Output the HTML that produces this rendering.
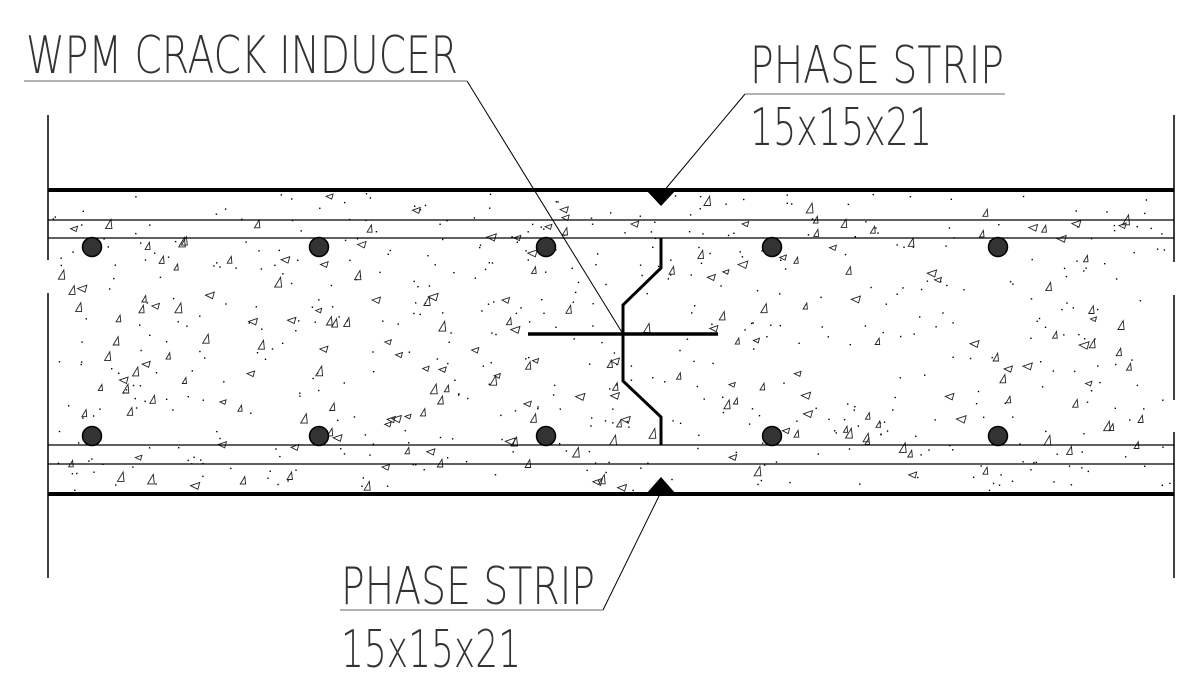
<!DOCTYPE html>
<html><head><meta charset="utf-8"><style>
html,body{margin:0;padding:0;background:#fff;}
svg{display:block;}
text{font-family:"DejaVu Sans","Liberation Sans",sans-serif;font-weight:200;fill:#333;}
</style></head><body>
<svg id="s" width="1200" height="688" viewBox="0 0 1200 688" xmlns="http://www.w3.org/2000/svg">
<rect width="1200" height="688" fill="#fff"/>
<g id="tex"></g>
<!-- end verticals -->
<g stroke="#000" stroke-width="1.5">
<line x1="48" y1="115" x2="48" y2="260"/>
<line x1="48" y1="293" x2="48" y2="578"/>
<line x1="1174" y1="115" x2="1174" y2="262"/>
<line x1="1174" y1="295" x2="1174" y2="400"/>
<line x1="1174" y1="432" x2="1174" y2="578"/>
</g>
<!-- slab lines -->
<line x1="48" y1="190" x2="1174" y2="190" stroke="#000" stroke-width="4"/>
<line x1="48" y1="220" x2="1174" y2="220" stroke="#000" stroke-width="1.3"/>
<line x1="48" y1="238" x2="1174" y2="238" stroke="#000" stroke-width="1.3"/>
<line x1="48" y1="445" x2="1174" y2="445" stroke="#000" stroke-width="1.3"/>
<line x1="48" y1="464" x2="1174" y2="464" stroke="#000" stroke-width="1.3"/>
<line x1="48" y1="494" x2="1174" y2="494" stroke="#000" stroke-width="4"/>
<!-- phase strips -->
<polygon points="646,190 676,190 661,206" fill="#000"/>
<polygon points="646,494 676,494 661,477" fill="#000"/>
<!-- bars -->
<g fill="#333" stroke="#000" stroke-width="1.5">
<circle cx="92" cy="247" r="9.5"/><circle cx="319" cy="247" r="9.5"/><circle cx="546" cy="247" r="9.5"/><circle cx="772" cy="247" r="9.5"/><circle cx="998" cy="247" r="9.5"/>
<circle cx="92" cy="436" r="9.5"/><circle cx="319" cy="436" r="9.5"/><circle cx="546" cy="436" r="9.5"/><circle cx="772" cy="436" r="9.5"/><circle cx="998" cy="436" r="9.5"/>
</g>
<!-- crack inducer -->
<polyline points="661,238 661,268 623,305 623,381 661,417 661,445" fill="none" stroke="#000" stroke-width="3"/>
<line x1="528" y1="334" x2="718" y2="334" stroke="#000" stroke-width="3.5"/>
<!-- leaders -->
<line x1="467" y1="81" x2="623" y2="334" stroke="#000" stroke-width="1"/>
<line x1="24" y1="81" x2="467" y2="81" stroke="#999" stroke-width="1.5"/>
<line x1="745" y1="94" x2="663" y2="192" stroke="#000" stroke-width="1"/>
<line x1="745" y1="94" x2="1005" y2="94" stroke="#999" stroke-width="1.5"/>
<line x1="603" y1="610" x2="660" y2="494" stroke="#000" stroke-width="1"/>
<line x1="340" y1="610" x2="603" y2="610" stroke="#999" stroke-width="1.5"/>
<!-- labels -->
<text x="26" y="73" font-size="52" textLength="432" lengthAdjust="spacingAndGlyphs">WPM  CRACK  INDUCER</text>
<text x="750" y="83" font-size="52" textLength="254" lengthAdjust="spacingAndGlyphs">PHASE  STRIP</text>
<text x="750" y="145" font-size="52" textLength="182" lengthAdjust="spacingAndGlyphs">15x15x21</text>
<text x="341" y="604" font-size="52" textLength="254" lengthAdjust="spacingAndGlyphs">PHASE  STRIP</text>
<text x="341" y="667" font-size="52" textLength="180" lengthAdjust="spacingAndGlyphs">15x15x21</text>
</svg>
<script>
(function(){
var seed=777;function r(){seed=(seed*1103515245+12345)%2147483648;return seed/2147483648;}
var g=document.getElementById('tex'),h='';
for(var i=0;i<520;i++){var x=52+r()*1118,y=193+r()*298;h+='<rect x="'+x.toFixed(1)+'" y="'+y.toFixed(1)+'" width="1.4" height="1.4" fill="#000"/>';}
for(var j=0;j<210;j++){var x=55+r()*1110,y=196+r()*292,s=6+r()*4,t=r()<0.5;
var p=t?[[x,y+s],[x+s*0.7,y+s],[x+s*0.6,y]]:[[x,y],[x+s,y-s*0.35],[x+s*0.8,y+s*0.4]];
h+='<polygon points="'+p.map(function(q){return q[0].toFixed(1)+','+q[1].toFixed(1)}).join(' ')+'" fill="none" stroke="#222" stroke-width="0.9"/>';}
g.innerHTML=h;
})();
</script>
</body></html>
